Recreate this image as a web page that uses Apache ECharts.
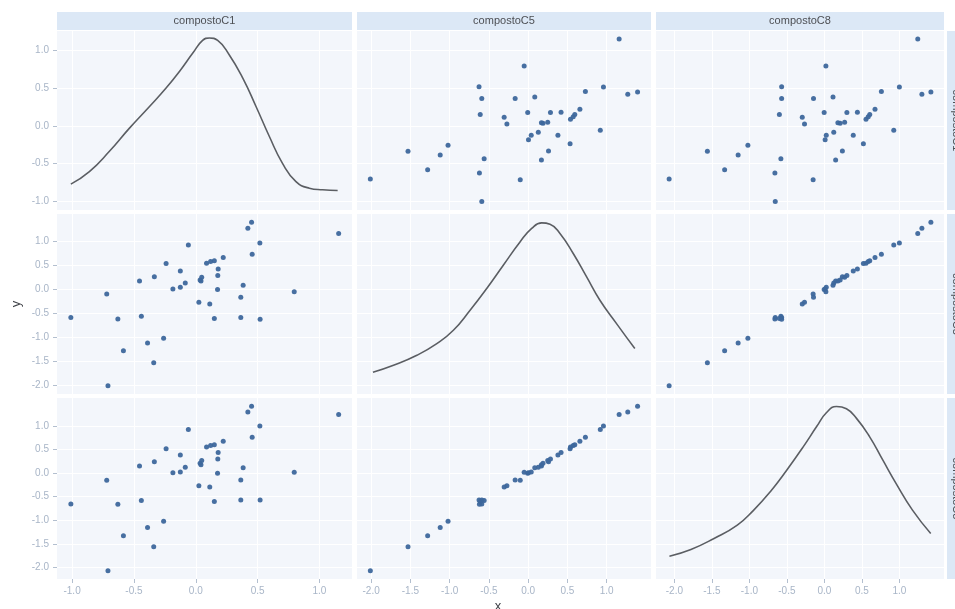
<!DOCTYPE html>
<html>
<head>
<meta charset="utf-8">
<script src="https://cdn.jsdelivr.net/npm/echarts@6/dist/echarts.min.js"></script>
<style>
  html, body { margin: 0; padding: 0; background: #ffffff; }
  #chart { width: 955px; height: 609px; }
</style>
</head>
<body>
<div id="chart"></div>
<script>
// Variable names (strip labels)
const variables = ['compostoC1', 'compostoC5', 'compostoC8'];

// Observations, one entry per sample
const compostoC1 = [-1.01, -0.72, -0.63, -0.71, -0.585, -0.455, -0.44, -0.39, -0.34, -0.335,
  -0.26, -0.24, -0.185, -0.125, -0.125, -0.085, -0.06, 0.025, 0.035, 0.048,
  0.042, 0.087, 0.12, 0.15, 0.113, 0.15, 0.176, 0.178, 0.181, 0.222,
  0.364, 0.383, 0.364, 0.421, 0.451, 0.456, 0.518, 0.52, 0.796, 1.155];
const compostoC5 = [-0.59, -0.10, -0.62, -2.01, -1.28, 0.17, -0.56, -1.12, -1.53, 0.26,
  -1.02, 0.535, 0.005, 0.04, 0.38, 0.13, 0.92, -0.27, 0.19, 0.25,
  0.17, 0.54, 0.575, 0.595, -0.305, -0.61, -0.005, 0.285, 0.42, 0.66,
  -0.165, 0.085, -0.59, 1.27, 1.395, 0.73, 0.96, -0.625, -0.05, 1.16];
const compostoC8 = [-0.655, -0.15, -0.66, -2.07, -1.33, 0.15, -0.58, -1.15, -1.56, 0.24,
  -1.02, 0.52, 0.01, 0.025, 0.385, 0.125, 0.925, -0.265, 0.21, 0.27,
  0.18, 0.555, 0.585, 0.605, -0.295, -0.60, -0.003, 0.30, 0.44, 0.675,
  -0.145, 0.115, -0.57, 1.30, 1.42, 0.76, 1.00, -0.57, 0.02, 1.245];

// Density curves on the diagonal, expressed in the panel's own units
const densityC1X = [-1.01, -0.86, -0.70, -0.536, -0.374, -0.24, -0.132, -0.024, 0.055, 0.11,
  0.177, 0.27, 0.38, 0.487, 0.595, 0.70, 0.81, 0.918, 1.025, 1.147];
const densityC1Y = [-0.777, -0.61, -0.343, -0.031, 0.257, 0.503, 0.724, 0.969, 1.137, 1.169,
  1.137, 0.947, 0.636, 0.257, -0.143, -0.497, -0.743, -0.831, -0.853, -0.863];
const densityC5X = [-1.977, -1.715, -1.417, -1.163, -0.952, -0.739, -0.527, -0.316, -0.103, 0.046,
  0.173, 0.279, 0.406, 0.575, 0.746, 0.915, 1.127, 1.36];
const densityC5Y = [-1.729, -1.583, -1.375, -1.131, -0.854, -0.4375, 0.015, 0.5, 0.985, 1.265,
  1.381, 1.354, 1.16, 0.744, 0.256, -0.229, -0.715, -1.235];
const densityC8X = [-2.066, -1.779, -1.471, -1.161, -0.942, -0.721, -0.5, -0.28, -0.103, 0.029,
  0.161, 0.294, 0.426, 0.602, 0.778, 0.955, 1.175, 1.418];
const densityC8Y = [-1.762, -1.619, -1.385, -1.102, -0.783, -0.394, 0.068, 0.564, 0.989, 1.287,
  1.415, 1.366, 1.168, 0.777, 0.281, -0.215, -0.783, -1.279];

// Tick values and axis extents per variable
const ticksC1 = [-1, -0.5, 0, 0.5, 1];
const ticksC5 = [-2, -1.5, -1, -0.5, 0, 0.5, 1];
const ticksC8 = [-2, -1.5, -1, -0.5, 0, 0.5, 1];
const rangeC1 = [-1.122, 1.263];
const rangeC5 = [-2.18, 1.566];
const rangeC8 = [-2.245, 1.595];

const values = [compostoC1, compostoC5, compostoC8];
const densities = [[densityC1X, densityC1Y], [densityC5X, densityC5Y], [densityC8X, densityC8Y]];
const ticks = [ticksC1, ticksC5, ticksC8];
const ranges = [rangeC1, rangeC5, rangeC8];

// Panel layout in pixels
const colLeft = [57, 357, 656];
const colWidth = [295, 294, 288];
const rowTop = [31, 214, 398];
const rowHeight = [179, 180, 181];

const FONT = '"Liberation Sans", Arial, sans-serif';
const tickLabelColor = '#a8b5c7';
const tickColor = '#b3bfcf';
const panelBg = '#f3f6fb';
const stripBg = '#dce8f6';

const grids = [], xAxes = [], yAxes = [], series = [];
for (let r = 0; r < 3; r++) {
  for (let c = 0; c < 3; c++) {
    const idx = r * 3 + c;
    grids.push({
      left: colLeft[c], top: rowTop[r], width: colWidth[c], height: rowHeight[r],
      show: true, backgroundColor: panelBg, borderWidth: 0, containLabel: false
    });
    xAxes.push({
      gridIndex: idx, type: 'value', min: ranges[c][0], max: ranges[c][1],
      position: 'bottom',
      axisLine: { show: false, onZero: false },
      axisTick: { show: r === 2, length: 4, customValues: ticks[c], lineStyle: { color: tickColor } },
      axisLabel: {
        show: r === 2, customValues: ticks[c], margin: 7, color: tickLabelColor,
        fontSize: 10, fontFamily: FONT, formatter: v => v.toFixed(1)
      },
      splitLine: { show: true, lineStyle: { color: '#ffffff', width: 1 } }
    });
    yAxes.push({
      gridIndex: idx, type: 'value', min: ranges[r][0], max: ranges[r][1],
      position: 'left',
      axisLine: { show: false, onZero: false },
      axisTick: { show: c === 0, length: 4, customValues: ticks[r], lineStyle: { color: tickColor } },
      axisLabel: {
        show: c === 0, customValues: ticks[r], margin: 8, color: tickLabelColor,
        fontSize: 10, fontFamily: FONT, formatter: v => v.toFixed(1)
      },
      splitLine: { show: true, lineStyle: { color: '#ffffff', width: 1 } }
    });
    if (r === c) {
      const [dx, dy] = densities[r];
      series.push({
        type: 'line', xAxisIndex: idx, yAxisIndex: idx,
        data: dx.map((x, i) => [x, dy[i]]),
        smooth: true, showSymbol: false, silent: true,
        lineStyle: { color: '#5b5e63', width: 1.6 }
      });
    } else {
      const xs = values[c], ys = values[r];
      series.push({
        type: 'scatter', xAxisIndex: idx, yAxisIndex: idx,
        data: xs.map((x, i) => [x, ys[i]]),
        symbolSize: 5, silent: true,
        itemStyle: { color: '#3d679c', opacity: 0.95 }
      });
    }
  }
}

// Facet strips on top and on the right, plus axis titles
const graphics = [];
for (let c = 0; c < 3; c++) {
  graphics.push({
    type: 'rect', shape: { x: colLeft[c], y: 12, width: colWidth[c], height: 18 },
    style: { fill: stripBg }, silent: true
  });
  graphics.push({
    type: 'text', x: colLeft[c] + colWidth[c] / 2, y: 21,
    style: { text: variables[c], fill: '#4d4f54', fontSize: 11, fontFamily: FONT,
      align: 'center', verticalAlign: 'middle' }, silent: true
  });
}
for (let r = 0; r < 3; r++) {
  graphics.push({
    type: 'rect', shape: { x: 947, y: rowTop[r], width: 18, height: rowHeight[r] },
    style: { fill: stripBg }, silent: true
  });
  graphics.push({
    type: 'text', x: 956, y: rowTop[r] + rowHeight[r] / 2, rotation: -Math.PI / 2,
    style: { text: variables[r], fill: '#4d4f54', fontSize: 11, fontFamily: FONT,
      align: 'center', verticalAlign: 'middle' }, silent: true
  });
}
graphics.push({
  type: 'text', x: 16, y: 304, rotation: Math.PI / 2,
  style: { text: 'y', fill: '#3f4147', fontSize: 13, fontFamily: FONT,
    align: 'center', verticalAlign: 'middle' }, silent: true
});
graphics.push({
  type: 'text', x: 498, y: 606,
  style: { text: 'x', fill: '#3f4147', fontSize: 13, fontFamily: FONT,
    align: 'center', verticalAlign: 'middle' }, silent: true
});

const chart = echarts.init(document.getElementById('chart'), null, { renderer: 'canvas' });
chart.setOption({
  backgroundColor: '#ffffff',
  animation: false,
  grid: grids,
  xAxis: xAxes,
  yAxis: yAxes,
  series: series,
  graphic: graphics
});
</script>
</body>
</html>
